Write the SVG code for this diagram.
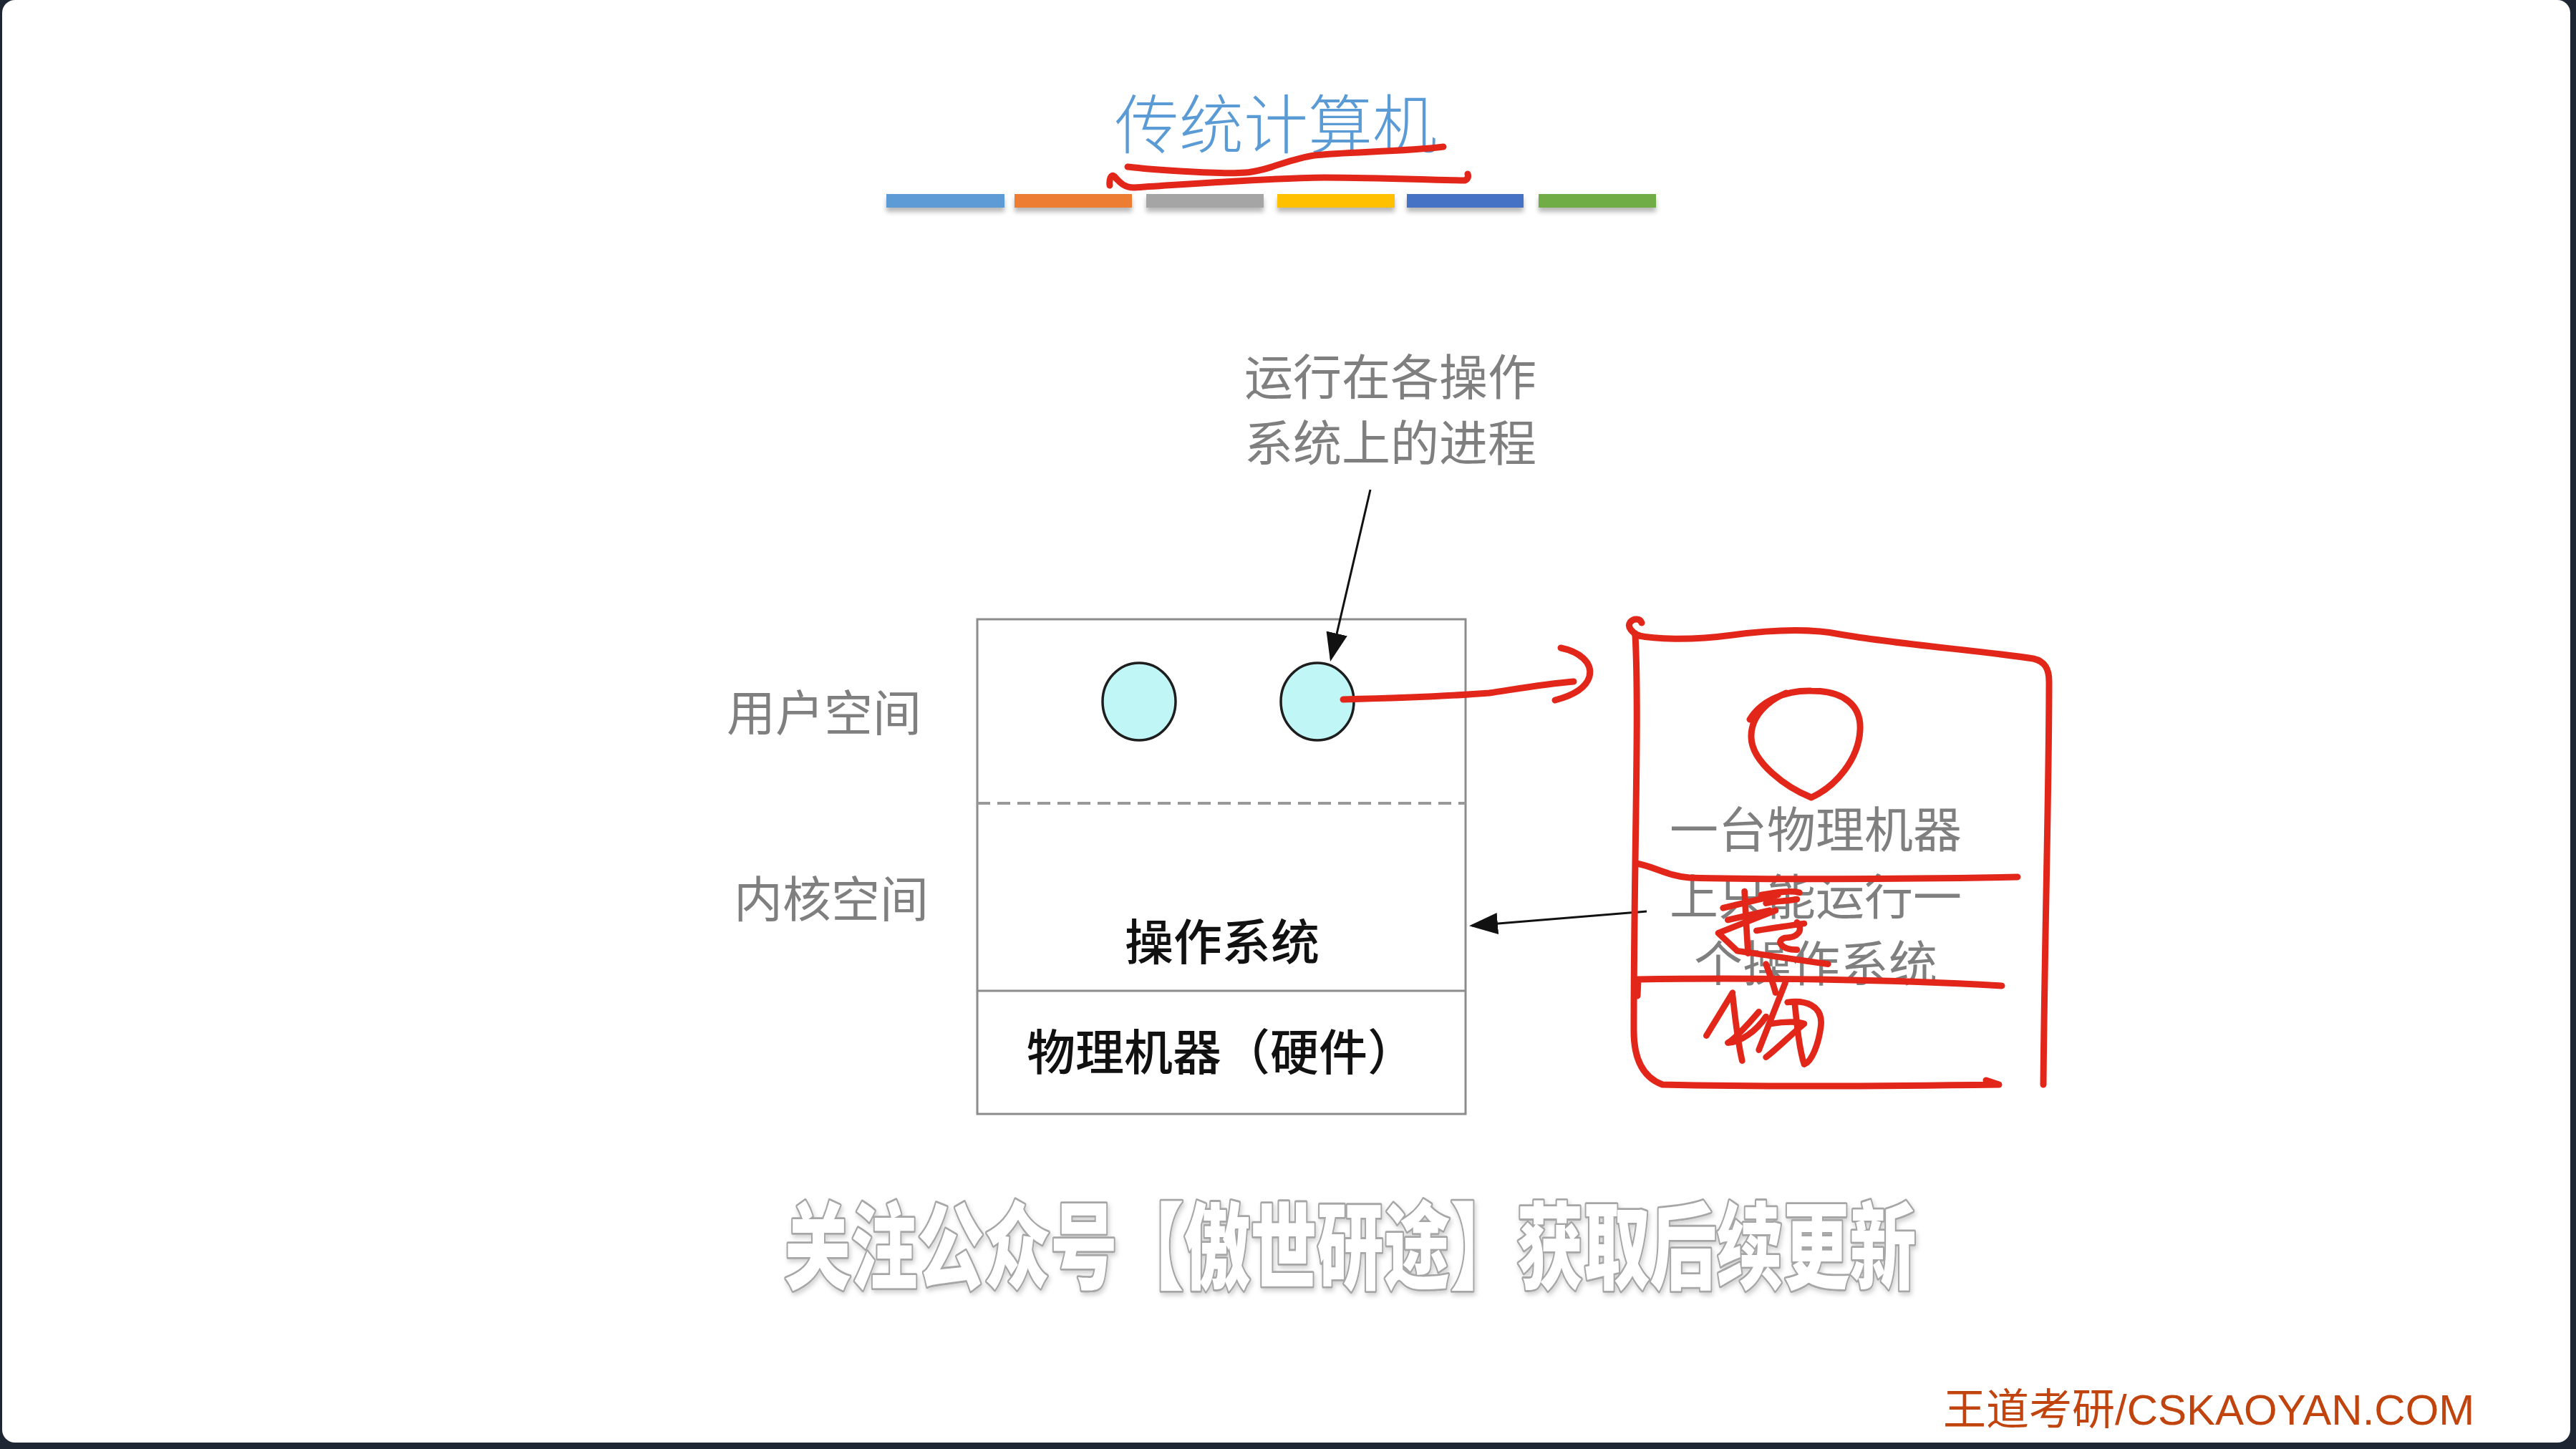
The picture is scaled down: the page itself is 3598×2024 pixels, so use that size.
<svg xmlns="http://www.w3.org/2000/svg" width="3598" height="2024" viewBox="0 0 3598 2024">
  <style>
    .cjk { font-family: "Noto Sans CJK SC", "Noto Sans", sans-serif; }
    .gray { fill: #7f7f7f; }
    .label { font-size: 68px; }
    .dark { fill: #111111; font-weight: 500; }
    .frame { fill: none; stroke: #8c8c8c; stroke-width: 3; }
    .proc { fill: #c0f6f6; stroke: #1e1e1e; stroke-width: 3.5; }
    .conn { fill: none; stroke: #111111; stroke-width: 3; }
    .ink { fill: none; stroke: #e3261a; stroke-width: 9; stroke-linecap: round; stroke-linejoin: round; }
    .pen { fill: none; stroke: #e3261a; stroke-width: 26; stroke-linecap: round; stroke-linejoin: round; }
  </style>
  <defs>
    <marker id="arrow" viewBox="0 0 40 30" refX="36" refY="15" markerWidth="40" markerHeight="30" orient="auto" markerUnits="userSpaceOnUse">
      <path d="M0,0 L40,15 L0,30 z" fill="#111111"/>
    </marker>
    <filter id="barShadow" x="-10%" y="-50%" width="120%" height="250%">
      <feDropShadow dx="0" dy="6" stdDeviation="3" flood-color="#000000" flood-opacity="0.28"/>
    </filter>
    <filter id="wmShadow" x="-5%" y="-20%" width="110%" height="140%">
      <feDropShadow dx="2" dy="4" stdDeviation="3" flood-color="#000000" flood-opacity="0.18"/>
    </filter>
  </defs>

  <!-- screen frame and slide -->
  <rect x="0" y="0" width="3598" height="2024" fill="#1e2633"/>
  <rect x="3" y="0" width="3587" height="2015" rx="18" fill="#ffffff"/>

  <!-- title -->
  <g id="title">
    <text class="cjk" x="1782" y="207" font-size="90" font-weight="300" fill="#5b9bd5" text-anchor="middle">传统计算机</text>
  </g>

  <!-- colour bars under the title -->
  <g id="color-bars" filter="url(#barShadow)">
    <rect x="1238" y="271" width="165" height="19" fill="#5b9bd5"/>
    <rect x="1417" y="271" width="164" height="19" fill="#ed7d31"/>
    <rect x="1601" y="271" width="164" height="19" fill="#a5a5a5"/>
    <rect x="1784" y="271" width="164" height="19" fill="#ffc000"/>
    <rect x="1965" y="271" width="163" height="19" fill="#4472c4"/>
    <rect x="2149" y="271" width="164" height="19" fill="#70ad47"/>
  </g>

  <!-- note above the box -->
  <g id="note-process">
    <text class="cjk gray label" x="1942" y="552" text-anchor="middle">运行在各操作</text>
    <text class="cjk gray label" x="1942" y="644" text-anchor="middle">系统上的进程</text>
  </g>

  <!-- side labels -->
  <g id="label-user">
    <text class="cjk gray label" x="1151" y="1021" text-anchor="middle">用户空间</text>
  </g>
  <g id="label-kernel">
    <text class="cjk gray label" x="1161" y="1281" text-anchor="middle">内核空间</text>
  </g>

  <!-- machine stack -->
  <g id="machine">
    <rect class="frame" x="1365" y="865" width="682" height="691"/>
    <line x1="1365" y1="1122" x2="2047" y2="1122" stroke="#999999" stroke-width="4" stroke-dasharray="18 10"/>
    <line class="frame" x1="1365" y1="1384" x2="2047" y2="1384"/>
  </g>
  <g id="process-1">
    <ellipse class="proc" cx="1591" cy="980" rx="51" ry="54"/>
  </g>
  <g id="process-2">
    <ellipse class="proc" cx="1840" cy="980" rx="51" ry="54"/>
  </g>
  <g id="os-layer">
    <text class="cjk dark label" x="1707" y="1341" text-anchor="middle">操作系统</text>
  </g>
  <g id="hardware-layer">
    <text class="cjk dark label" x="1706" y="1495" text-anchor="middle">物理机器（硬件）</text>
  </g>

  <!-- note on the right -->
  <g id="note-one-os">
    <text class="cjk gray label" x="2536" y="1184" text-anchor="middle">一台物理机器</text>
    <text class="cjk gray label" x="2536" y="1278" text-anchor="middle">上只能运行一</text>
    <text class="cjk gray label" x="2536" y="1371" text-anchor="middle">个操作系统</text>
  </g>

  <!-- connectors -->
  <g id="connectors">
    <line class="conn" x1="1914" y1="684" x2="1859" y2="920" marker-end="url(#arrow)"/>
    <line class="conn" x1="2300" y1="1273" x2="2056" y2="1293" marker-end="url(#arrow)"/>
  </g>

  <!-- hand-drawn red ink -->
  <g id="ink">
    <!-- underline of the title -->
    <path class="ink" stroke-width="7" d="M1575 233 C1600 236, 1700 244, 1740 241 C1770 239, 1800 222, 1836 217 C1880 212, 1960 212, 2016 205"/>
    <path class="ink" stroke-width="7" d="M1550 259 C1549 250, 1552 243, 1556 246 C1562 252, 1568 262, 1584 262 C1650 258, 1760 249, 1850 248 C1930 248, 2010 252, 2046 252 C2051 250, 2051 246, 2050 243"/>

    <!-- arrow from the process -->
    <path class="ink" stroke-width="10" d="M1876 977 C1950 975, 2030 972, 2080 968 C2120 962, 2160 955, 2198 952"/>
    <path class="ink" stroke-width="10" d="M2180 905 C2205 910, 2225 925, 2220 945 C2215 962, 2195 972, 2172 978"/>

    <!-- machine sketch -->
    <path class="ink" d="M2290 888 C2280 884, 2272 876, 2277 869 C2282 863, 2291 864, 2293 870"/>
    <path class="ink" d="M2284 887 C2310 893, 2360 895, 2420 887 C2480 879, 2530 878, 2570 886 C2650 900, 2760 908, 2840 920 C2857 924, 2862 935, 2862 952 C2862 1100, 2856 1300, 2854 1515"/>
    <path class="ink" d="M2284 887 C2290 1000, 2282 1200, 2282 1440 C2282 1480, 2295 1505, 2322 1515 C2450 1518, 2650 1517, 2792 1515 L2774 1509"/>
    <path class="ink" d="M2444 1005 C2460 978, 2495 964, 2530 965 C2575 965, 2600 985, 2598 1020 C2596 1060, 2565 1098, 2530 1114 C2495 1100, 2447 1065, 2446 1030 C2445 1000, 2470 978, 2495 968"/>
    <path class="ink" d="M2285 1206 C2310 1210, 2330 1224, 2360 1226 C2450 1229, 2650 1228, 2818 1225"/>
    <path class="ink" d="M2287 1391 L2288 1368 C2400 1366, 2600 1366, 2796 1377"/>

    <!-- scribbled handwriting -->
    <g transform="translate(2280,1200) scale(0.3333)">
      <path class="pen" d="M380 205 L610 150"/>
      <path class="pen" d="M470 135 C475 220, 478 300, 485 395"/>
      <path class="pen" d="M400 255 L575 215"/>
      <path class="pen" d="M600 215 L360 310 L440 385 L820 440"/>
      <path class="pen" d="M540 150 C600 140, 660 130, 700 140"/>
      <path class="pen" d="M560 185 C600 175, 640 178, 690 168"/>
      <path class="pen" d="M520 300 C580 290, 650 280, 720 270"/>
      <path class="pen" d="M690 265 C720 300, 690 330, 640 330 C600 340, 620 380, 690 380"/>
      <path class="pen" d="M560 440 C575 480, 590 520, 600 560"/>
      <path class="pen" d="M310 740 L420 560"/>
      <path class="pen" d="M420 570 C430 660, 440 760, 460 845"/>
      <path class="pen" d="M530 640 C480 700, 420 760, 400 770 C450 770, 520 720, 560 660"/>
      <path class="pen" d="M640 520 C600 620, 570 700, 530 800"/>
      <path class="pen" d="M650 600 C720 590, 800 610, 790 700 C780 780, 750 850, 720 860 C700 800, 690 700, 680 600"/>
      <path class="pen" d="M580 690 C640 680, 700 680, 720 690 C660 740, 600 800, 560 830"/>
    </g>
  </g>

  <!-- overlay caption -->
  <g id="watermark" filter="url(#wmShadow)">
    <text class="cjk" transform="translate(1886,1790) scale(1,1.42)" x="0" y="0" font-size="93" font-weight="900" text-anchor="middle" fill="#ffffff" stroke="#a6a6a6" stroke-width="4" paint-order="stroke" stroke-linejoin="round">关注公众号【傲世研途】获取后续更新</text>
  </g>

  <!-- footer -->
  <g id="footer">
    <text x="2714" y="1990" font-family="Liberation Sans, Noto Sans CJK SC, sans-serif" font-size="60" fill="#c1440e">王道考研/CSKAOYAN.COM</text>
  </g>
</svg>
